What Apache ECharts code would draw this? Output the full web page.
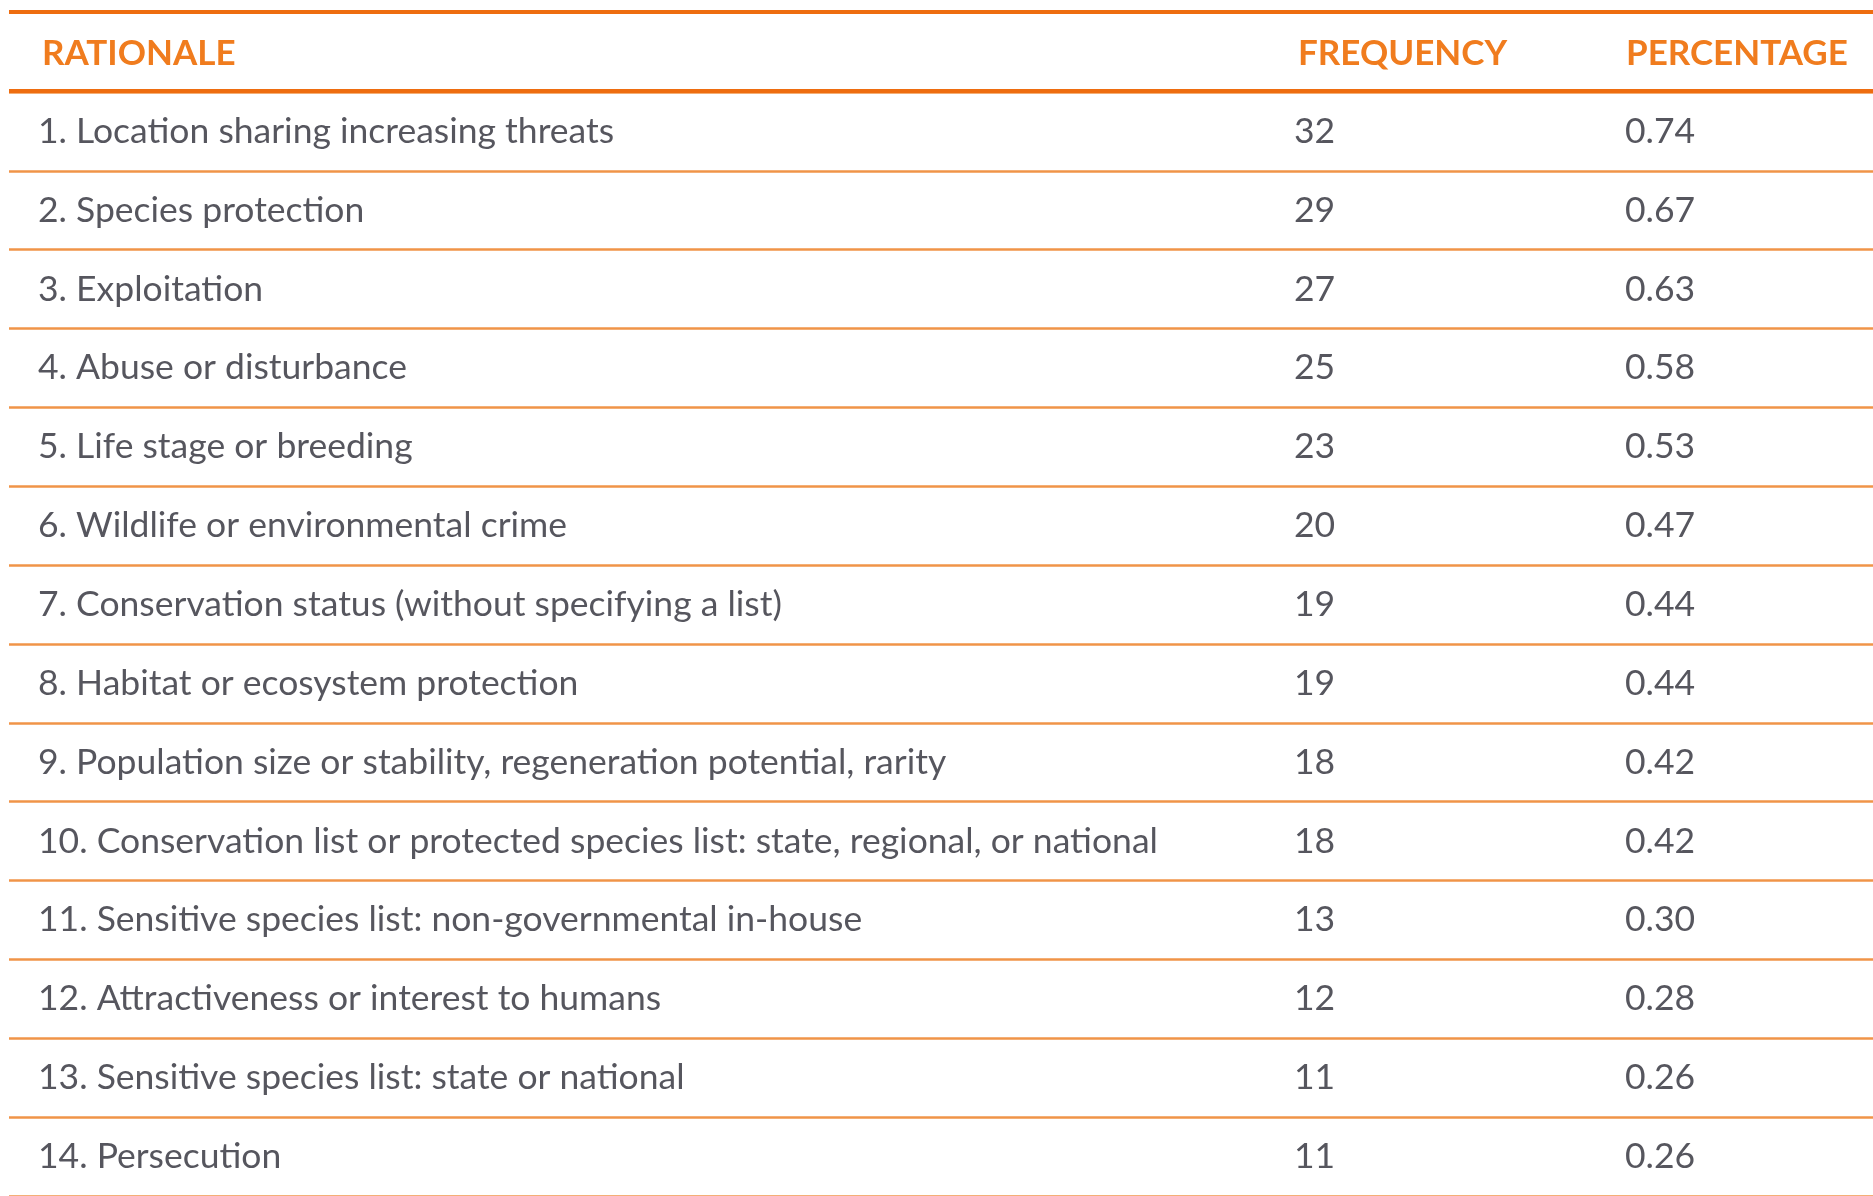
<!DOCTYPE html>
<html>
<head>
<meta charset="utf-8">
<script src="https://cdn.jsdelivr.net/npm/echarts@6/dist/echarts.min.js"></script>
<style>
  html, body { margin: 0; padding: 0; background: #fff; }
  #chart { width: 1873px; height: 1196px; }
</style>
</head>
<body>
<div id="chart"></div>
<script>
// table data
const headers = ["RATIONALE", "FREQUENCY", "PERCENTAGE"];
const rationale = [
  "1. Location sharing increasing threats",
  "2. Species protection",
  "3. Exploitation",
  "4. Abuse or disturbance",
  "5. Life stage or breeding",
  "6. Wildlife or environmental crime",
  "7. Conservation status (without specifying a list)",
  "8. Habitat or ecosystem protection",
  "9. Population size or stability, regeneration potential, rarity",
  "10. Conservation list or protected species list: state, regional, or national",
  "11. Sensitive species list: non-governmental in-house",
  "12. Attractiveness or interest to humans",
  "13. Sensitive species list: state or national",
  "14. Persecution",
];
const frequency = [32, 29, 27, 25, 23, 20, 19, 19, 18, 18, 13, 12, 11, 11];
const percentage = [0.74, 0.67, 0.63, 0.58, 0.53, 0.47, 0.44, 0.44, 0.42, 0.42, 0.30, 0.28, 0.26, 0.26];

// layout (pixels inside the grid)
const gridLeft = 9;
const colX = [29, 1285, 1616];
const headerX = [42, 1298, 1626];
const rowH = 79.1;

const ORANGE = "#ee6d10";
const ORANGE_TEXT = "#f07c1e";
const ORANGE_LIGHT = "#f09448";
const TEXT = "#2c2c36";

let myChart = echarts.init(document.getElementById("chart"));

function colSeries(idx, fmt) {
  return {
    type: "scatter",
    symbolSize: 0,
    silent: true,
    data: rationale.map((r, i) => [colX[idx], i]),
    label: {
      show: true,
      position: "right",
      distance: 0,
      color: TEXT,
      fontFamily: "Lato",
      fontSize: 35.5,
      formatter: (p) => fmt(p.dataIndex),
    },
  };
}

let option = {
  animation: false,
  backgroundColor: "#fff",
  grid: {
    left: gridLeft,
    right: 0,
    top: 92,
    height: rowH * rationale.length,
  },
  xAxis: {
    type: "value",
    min: 0,
    max: 1873 - gridLeft,
    show: false,
  },
  yAxis: {
    type: "category",
    inverse: true,
    data: rationale.map((r, i) => i),
    axisLine: { show: false },
    axisTick: { show: false },
    axisLabel: { show: false, interval: 0 },
    splitLine: {
      show: true,
      interval: 0,
      lineStyle: { color: ORANGE_LIGHT, width: 2.5 },
    },
  },
  graphic: [
    // top rule
    { type: "rect", left: gridLeft, top: 10, shape: { width: 1873, height: 4 }, style: { fill: ORANGE }, z: 10 },
    // header rule
    { type: "rect", left: gridLeft, top: 89, shape: { width: 1873, height: 4 }, style: { fill: ORANGE }, z: 10 },
  ].concat(
    headers.map((h, i) => ({
      type: "text",
      left: headerX[i],
      top: 36,
      z: 10,
      style: {
        text: h,
        fill: ORANGE_TEXT,
        font: "bold 35px Lato",
      },
    }))
  ),
  series: [
    colSeries(0, (i) => rationale[i]),
    colSeries(1, (i) => String(frequency[i])),
    colSeries(2, (i) => percentage[i].toFixed(2)),
  ],
};
myChart.setOption(option);
</script>
</body>
</html>
